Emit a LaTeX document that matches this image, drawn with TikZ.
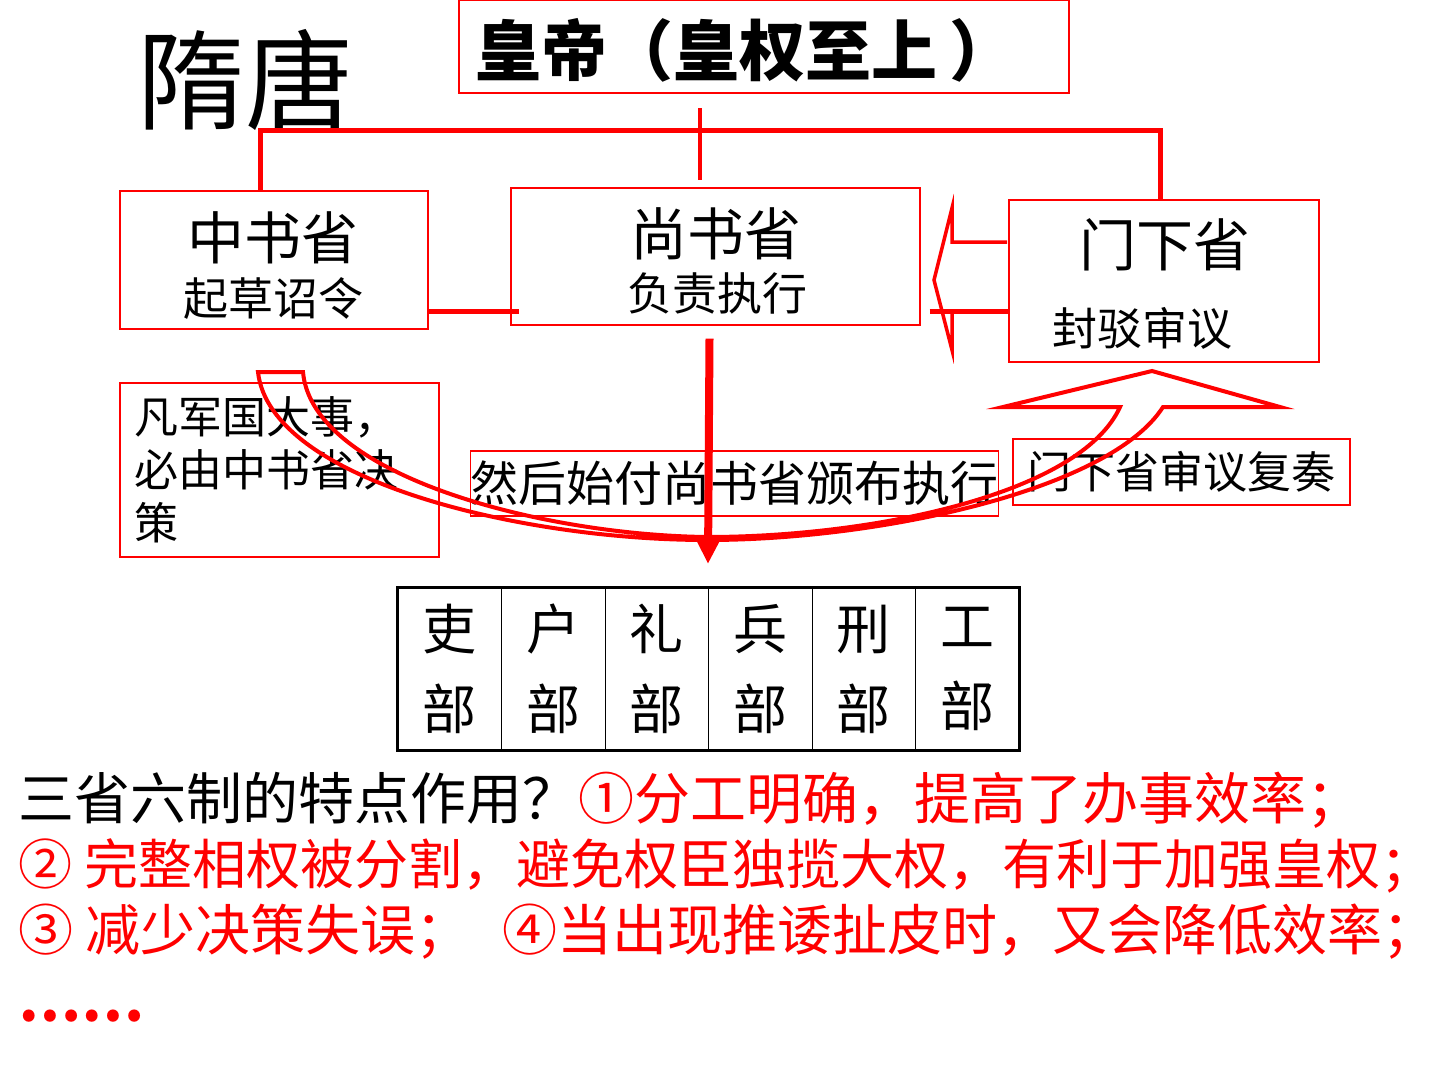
\documentclass[tikz,border=0pt]{standalone}
\usepackage{fontspec}
\setmainfont{Noto Sans CJK SC}
\usetikzlibrary{positioning,arrows.meta}
\newcommand{\fsz}[1]{\fontsize{#1}{#1}\selectfont}

\begin{document}
\begin{tikzpicture}[
    x=1pt, y=-1pt,
    box/.style={draw=red, line width=1.2pt, inner sep=0pt},
    txt/.style={inner sep=0pt, font=\fsz{#1}},
    link/.style={red, line width=5pt},
    cell/.style={draw=black, line width=1pt, minimum width=103.5, minimum height=162, align=center, inner sep=0pt, font={\fontsize{54}{80}\selectfont}},
]
    \useasboundingbox (0,0) rectangle (1440,1080);

    % title and emperor
    \node[txt=108] (title) at (245,80) {隋唐};
    \node[box, minimum width=610, minimum height=93] (emperor) at (764,46.5) {};
    \node[inner sep=0pt, anchor=west, font={\fsz{66}\bfseries}] (emperorText) at (475,50) {皇帝（皇权至上\hspace{12pt}）};

    % three departments
    \node[box, minimum width=308, minimum height=138] (zhongshu) at (274,260) {};
    \node[txt=57] (zhongshuName) at (273,238) {中书省};
    \node[txt=45] (zhongshuDuty) at (273,298) {起草诏令};

    \node[box, minimum width=409, minimum height=137] (shangshu) at (715.5,256.5) {};
    \node[txt=57] (shangshuName) at (716,234) {尚书省};
    \node[txt=45] (shangshuDuty) at (717,293) {负责执行};

    \node[box, minimum width=310, minimum height=162] (menxia) at (1164,281) {};
    \node[txt=57] (menxiaName) at (1165,245) {门下省};
    \node[txt=45] (menxiaDuty) at (1142,328) {封驳审议};

    % notes
    \node[box, minimum width=319, minimum height=174, text width=290, align=left, font={\fontsize{44}{53}\selectfont}] (decide) at (279.5,470) {凡军国大事，\\必由中书省决\\策};
    \node[box, minimum width=511, minimum height=65, font=\fsz{48}] (issue) at (734.5,483.5) {然后始付尚书省颁布执行};
    \node[box, minimum width=337, minimum height=66, font=\fsz{44}] (review) at (1181.5,472) {门下省审议复奏};

    % six ministries
    \foreach \dept [count=\i] in {吏,户,礼,兵,刑,工}
        \node[cell] (dept\i) at (398+103.5*\i-51.75, 669) {\dept\\部};
    \draw[line width=2.5pt] (dept1.north west) rectangle (dept6.south east);

    % connectors
    \coordinate (barL) at (260,130);
    \coordinate (barR) at (1160,130);
    \coordinate (hubTop) at (700,108);
    \coordinate (hubBot) at (700,180);
    \coordinate (sideY) at (0,311);
    \coordinate (sixTop) at (708,564);
    \draw[link] (barL |- zhongshu.north) -- (barL) -- (barR) -- (barR |- menxia.north);
    \draw[red, line width=4pt] (hubTop) -- (hubBot);
    \draw[link] (zhongshu.east |- sideY) -- ([xshift=9pt]shangshu.west |- sideY);
    \draw[link] ([xshift=9pt]shangshu.east |- sideY) -- (menxia.west |- sideY);
    \draw[red, line width=8pt, -{Triangle[width=26pt,length=28pt]}] ([xshift=-6pt,yshift=-13pt]shangshu.south) -- (sixTop);

    % hollow arrow back to shangshu
    \draw[red, line width=3.5pt, line join=miter] (1007,242) -- (952,242) -- (952,208) -- (934,280) -- (952,350) -- (952,312) -- (1007,312);

    % curved arrow up to menxia
    \draw[red, line width=4pt, line join=miter] (258,372) -- (303,372)
        .. controls (312,475) and (540,535) .. (707,537)
        .. controls (870,537) and (1080,495) .. (1120,407)
        -- (1003,407) -- (1152,371) -- (1280,407) -- (1163,407)
        .. controls (1110,490) and (880,540) .. (707,540)
        .. controls (520,540) and (270,480) .. (258,372) -- cycle;

    % summary
    \node[txt=56, anchor=west] (sumA) at (18,800) {三省六制的特点作用？\textcolor{red}{①分工明确，提高了办事效率；}};
    \node[txt=54, anchor=west, text=red] (sumB) at (18,866) {② 完整相权被分割，避免权臣独揽大权，有利于加强皇权；};
    \node[txt=55, anchor=west, text=red] (sumC) at (18,932) {③ 减少决策失误；\hspace{32pt}④当出现推诿扯皮时，又会降低效率；};
    \node[inner sep=0pt, anchor=west, text=red, font={\fsz{56}\bfseries}] (sumD) at (18,1016) {……};
\end{tikzpicture}
\end{document}
